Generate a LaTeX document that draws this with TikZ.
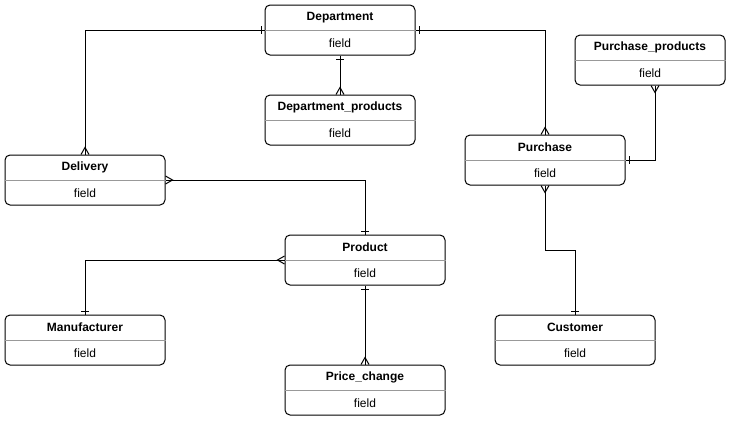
\documentclass[tikz,border=0pt]{standalone}
\usepackage{fontspec}
\setmainfont{Liberation Sans}
\usetikzlibrary{decorations.markings,calc}
\tikzset{
  ent/.style={draw=black, line width=1pt, rounded corners=5pt, minimum height=50pt, inner sep=0pt},
  sepline/.style={draw=black!40, line width=0.8pt},
  ttl/.style={font=\fontsize{12pt}{14pt}\selectfont\bfseries, inner sep=0pt},
  fld/.style={font=\fontsize{12pt}{14pt}\selectfont, inner sep=0pt},
  conn/.style={draw=black, line width=1pt},
  mk/.style={draw=black, line width=1pt},
  oneS/.style={postaction={decorate,decoration={markings,mark=at position 0 with {\draw[mk] (3.5pt,-4pt)--(3.5pt,4pt);}}}},
  oneE/.style={postaction={decorate,decoration={markings,mark=at position 1 with {\draw[mk] (-3.5pt,-4pt)--(-3.5pt,4pt);}}}},
  manyS/.style={postaction={decorate,decoration={markings,mark=at position 0 with {\draw[mk] (0pt,-4pt)--(7pt,0pt)--(0pt,4pt);}}}},
  manyE/.style={postaction={decorate,decoration={markings,mark=at position 1 with {\draw[mk] (0pt,-4pt)--(-7pt,0pt)--(0pt,4pt);}}}},
}
\newcommand\entbox[5]{% name, cx, cy, width, title
  \node[ent, minimum width=#4] (#1) at (#2,#3) {};
  \draw[sepline] (#1.west) -- (#1.east);
  \node[ttl] at ($(#1.north)!0.5!(#1.center)$) {#5};
  \node[fld] at ($(#1.center)!0.5!(#1.south)$) {field};
}
\begin{document}
\begin{tikzpicture}[x=1pt,y=-1pt]
  \useasboundingbox[fill=white] (0,0) rectangle (741,421);
  \entbox{dep}{340}{30}{150pt}{Department}
  \entbox{dpp}{340}{120}{150pt}{Department\_products}
  \entbox{del}{85}{180}{160pt}{Delivery}
  \entbox{pp}{650}{60}{150pt}{Purchase\_products}
  \entbox{pur}{545}{160}{160pt}{Purchase}
  \entbox{prod}{365}{260}{160pt}{Product}
  \entbox{man}{85}{340}{160pt}{Manufacturer}
  \entbox{cus}{575}{340}{160pt}{Customer}
  \entbox{pc}{365}{390}{160pt}{Price\_change}

  \path[conn,oneS,manyE] (dep.west) -| (del.north);
  \path[conn,oneS,manyE] (dep.east) -| (pur.north);
  \path[conn,oneS,manyE] (dep.south) -- (dpp.north);
  \path[conn,manyS,oneE] (del.east) -| (prod.north);
  \path[conn,manyS,oneE] (prod.west) -| (man.north);
  \path[conn,oneS,manyE] (prod.south) -- (pc.north);
  \path[conn,manyS,oneE] ([xshift=5pt]pp.south) |- (pur.east);
  \path[conn,manyS,oneE] (pur.south) -- ++(0,65) -| (cus.north);
\end{tikzpicture}
\end{document}
